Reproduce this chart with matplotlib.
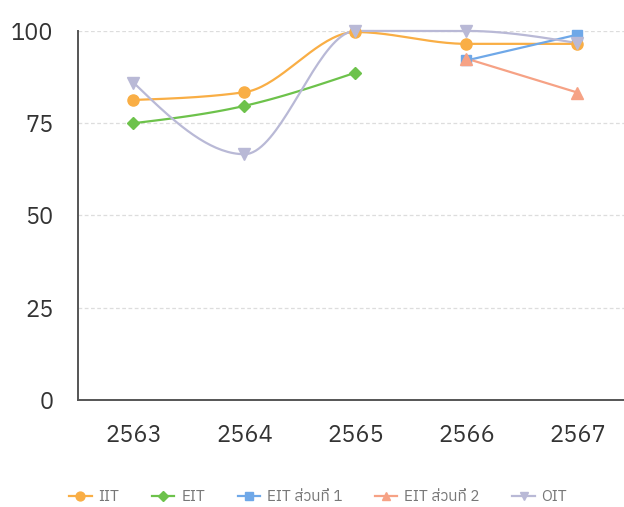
import matplotlib
matplotlib.use("Agg")
import matplotlib.pyplot as plt
import numpy as np

FONT = ["Anuphan", "Noto Sans Thai", "DejaVu Sans"]
plt.rcParams['font.family'] = FONT

years = ["2563", "2564", "2565", "2566", "2567"]
iit = [81.3, 83.4, 99.7, 96.5, 96.5]
eit = [75.0, 79.7, 88.7, None, None]
eit1 = [None, None, None, 92.0, 99.0]
eit2 = [None, None, None, 92.5, 83.3]
oit = [86.0, 66.6, 100.0, 100.0, 96.7]
labels = ["IIT", "EIT", "EIT ส่วนที่ 1", "EIT ส่วนที่ 2", "OIT"]
colors = ["#F9AE45", "#6DC24B", "#6FA8E8", "#F6A285", "#B9B9D6"]
markers = ["o", "D", "s", "^", "v"]
msizes = [8, 6, 7.5, 8, 8]
yticks = [0, 25, 50, 75, 100]


def monotone(x, y, n=40):
    """d3 curveMonotoneX style cubic through the given points."""
    x = np.asarray(x, float); y = np.asarray(y, float)
    if len(x) < 3:
        return x, y
    h = np.diff(x); s = np.diff(y) / h
    t = np.zeros(len(x))
    for i in range(1, len(x) - 1):
        h0, h1, s0, s1 = h[i-1], h[i], s[i-1], s[i]
        p = (s0 * h1 + s1 * h0) / (h0 + h1)
        t[i] = (np.sign(s0) + np.sign(s1)) * min(abs(s0), abs(s1), 0.5 * abs(p)) or 0.0
    t[0] = (3 * s[0] - t[1]) / 2
    t[-1] = (3 * s[-1] - t[-2]) / 2
    xs, ys = [], []
    u = np.linspace(0, 1, n)
    for i in range(len(x) - 1):
        dx = h[i] / 3
        P0 = (x[i], y[i]); P1 = (x[i] + dx, y[i] + dx * t[i])
        P2 = (x[i+1] - dx, y[i+1] - dx * t[i+1]); P3 = (x[i+1], y[i+1])
        bx = (1-u)**3*P0[0] + 3*(1-u)**2*u*P1[0] + 3*(1-u)*u**2*P2[0] + u**3*P3[0]
        by = (1-u)**3*P0[1] + 3*(1-u)**2*u*P1[1] + 3*(1-u)*u**2*P2[1] + u**3*P3[1]
        xs.extend(bx); ys.extend(by)
    return np.array(xs), np.array(ys)


fig = plt.figure(figsize=(6.24, 5.07), dpi=100)
ax = fig.add_axes([0.125, 0.211, 0.8894, 0.728])

series = [iit, eit, eit1, eit2, oit]
for vals, lab, c, m, ms in zip(series, labels, colors, markers, msizes):
    xi = [i for i, v in enumerate(vals) if v is not None]
    yi = [v for v in vals if v is not None]
    sx, sy = monotone(xi, yi)
    ax.plot(sx, sy, color=c, lw=1.6, clip_on=False, zorder=2)
    ax.plot(xi, yi, ls="none", marker=m, ms=ms, color=c, mec=c, clip_on=False, zorder=3)
    ax.plot([], [], color=c, lw=1.6, marker=m, ms=ms * 0.8, label=lab)

ax.set_xlim(-0.5, 4.5)
ax.set_ylim(0, 100)
ax.set_xticks(range(len(years)))
ax.set_xticklabels(years)
ax.set_yticks(yticks)
ax.tick_params(axis="both", length=0, labelsize=17, labelcolor="#333333")
ax.tick_params(axis="x", pad=17)
ax.tick_params(axis="y", pad=17.5)
for sp in ["top", "right"]:
    ax.spines[sp].set_visible(False)
for sp in ["left", "bottom"]:
    ax.spines[sp].set_color("#555555")
    ax.spines[sp].set_linewidth(1.4)
ax.grid(axis="y", color="#DDDDDD", lw=0.9, ls=(0, (3, 2)))
ax.set_axisbelow(True)

fig.legend(loc="center", bbox_to_anchor=(0.51, 0.02), ncol=5, frameon=False,
           fontsize=11, labelcolor="#777777", handlelength=1.45, handletextpad=0.45,
           columnspacing=2.15)

fig.savefig("out.png", dpi=100)
